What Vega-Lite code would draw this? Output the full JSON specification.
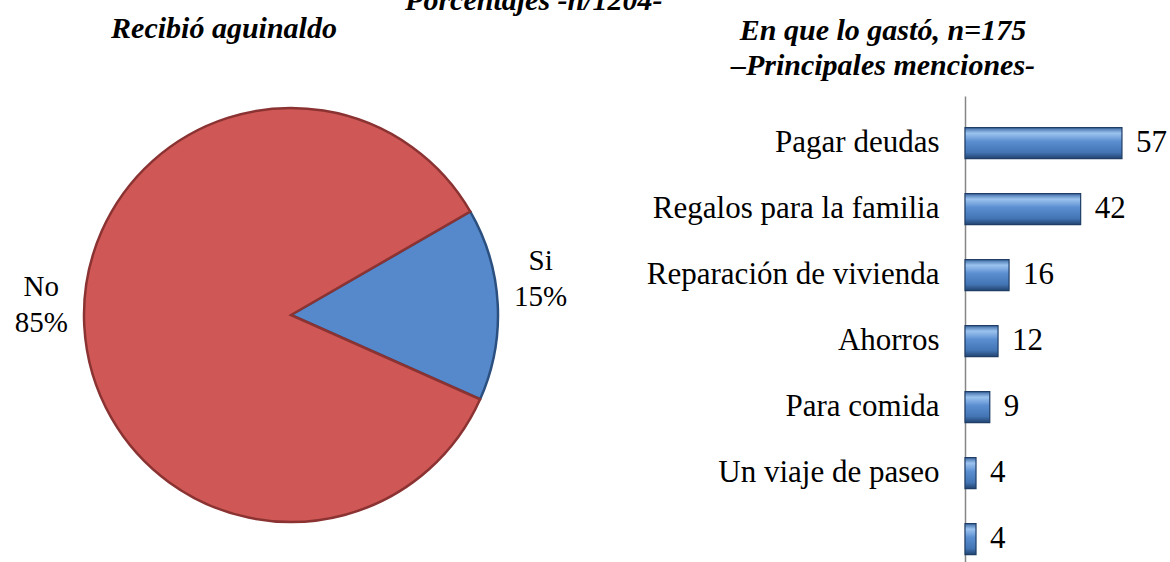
{
  "$schema": "https://vega.github.io/schema/vega-lite/v6.json",
  "background": "white",
  "padding": {"left": 14, "top": -14, "right": 0, "bottom": 0},
  "config": {
    "view": {"stroke": null},
    "font": "Liberation Serif",
    "title": {"font": "Liberation Serif", "fontSize": 30, "fontWeight": "bold", "fontStyle": "italic", "color": "black", "lineHeight": 35}
  },
  "title": {"text": "Porcentajes -n/1204-", "anchor": "middle", "dx": -57, "offset": -2},
  "spacing": 78,
  "hconcat": [
    {
      "width": 420,
      "height": 438,
      "title": {"text": "Recibió aguinaldo", "dx": -67, "offset": 52},
      "data": {"values": [
        {"resp": "Si", "pct": 15, "label": "Si\n15%"},
        {"resp": "No", "pct": 85, "label": "No\n85%"}
      ]},
      "encoding": {
        "theta": {"field": "pct", "type": "quantitative", "stack": true, "scale": {"range": [1.99, 8.273]}},
        "color": {"field": "resp", "type": "nominal", "legend": null, "scale": {"domain": ["No", "Si"], "range": ["#cf5755", "#5589cb"]}}
      },
      "layer": [
        {"mark": {"type": "arc", "outerRadius": 207, "strokeWidth": 2.5},
         "encoding": {"stroke": {"field": "resp", "type": "nominal", "legend": null, "scale": {"domain": ["No", "Si"], "range": ["#8a3332", "#2b4f7f"]}}}},
        {"mark": {"type": "text", "radius": 250, "dy": -41, "fontSize": 29, "lineBreak": "\n", "lineHeight": 36, "color": "black", "font": "Liberation Serif"},
         "encoding": {"text": {"field": "label"}, "color": {"value": "black"}}}
      ]
    },
    {
      "width": 190,
      "height": 467,
      "title": {"text": ["En que lo gastó, n=175", "–Principales menciones-"], "dx": -177, "offset": 15},
      "data": {"values": [
        {"cat": "Pagar deudas", "v": 57},
        {"cat": "Regalos para la familia", "v": 42},
        {"cat": "Reparación de vivienda", "v": 16},
        {"cat": "Ahorros", "v": 12},
        {"cat": "Para comida", "v": 9},
        {"cat": "Un viaje de paseo", "v": 4},
        {"cat": " ", "v": 4}
      ]},
      "encoding": {
        "y": {"field": "cat", "type": "nominal", "sort": null, "title": null,
              "scale": {"paddingInner": 0.53, "paddingOuter": 0.303, "align": 0.79},
              "axis": {"ticks": false, "domainColor": "#868686", "domainWidth": 1.5, "labelFont": "Liberation Serif", "labelFontSize": 31, "labelColor": "black", "labelPadding": 26, "labelLimit": 400}},
        "x": {"field": "v", "type": "quantitative", "scale": {"domain": [0, 69]}, "axis": null}
      },
      "layer": [
        {"mark": {"type": "bar", "stroke": "#1f3d66", "strokeWidth": 1.2,
                  "fill": {"gradient": "linear", "x1": 0, "y1": 0, "x2": 0, "y2": 1,
                           "stops": [{"offset": 0, "color": "#3d6ba6"}, {"offset": 0.18, "color": "#9cc3ef"}, {"offset": 0.45, "color": "#5a8ed0"}, {"offset": 0.8, "color": "#4375b5"}, {"offset": 1, "color": "#22446f"}]}}},
        {"mark": {"type": "text", "align": "left", "dx": 14, "fontSize": 31, "font": "Liberation Serif", "color": "black"},
         "encoding": {"text": {"field": "v", "type": "quantitative"}}}
      ]
    }
  ]
}
